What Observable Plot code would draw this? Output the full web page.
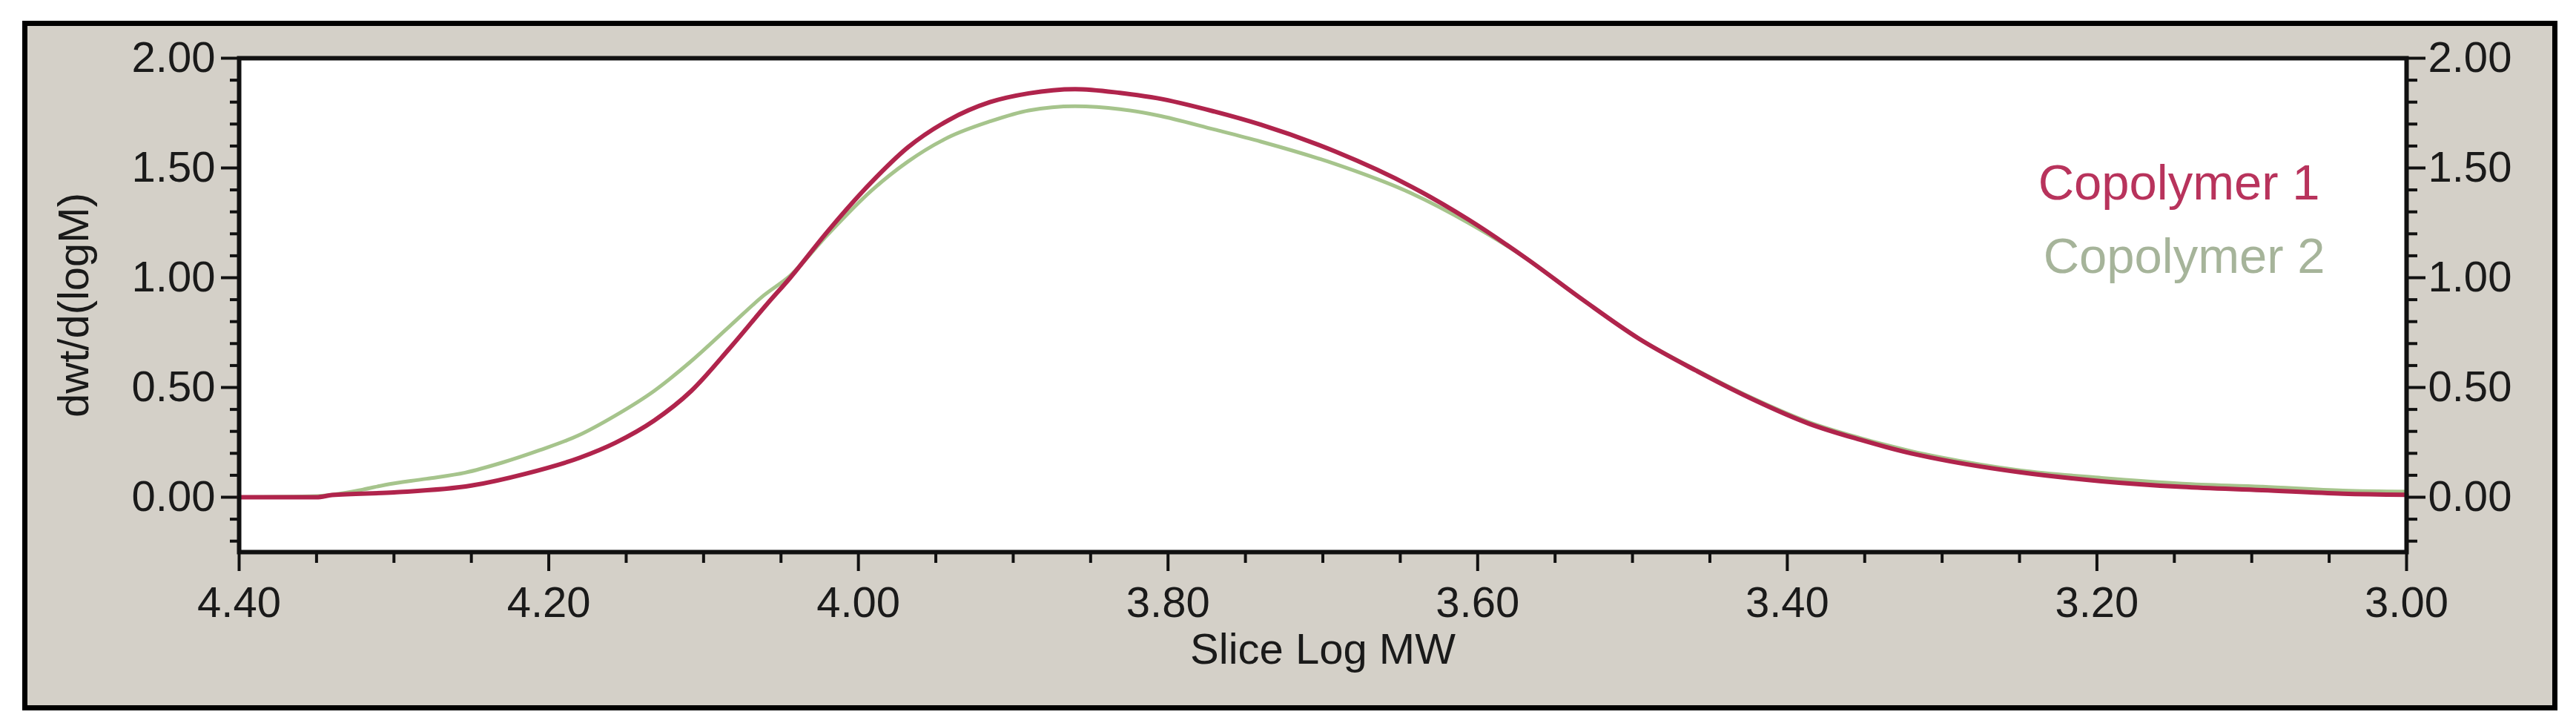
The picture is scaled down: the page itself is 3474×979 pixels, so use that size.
<!DOCTYPE html>
<html><head><meta charset="utf-8">
<script src="https://cdn.jsdelivr.net/npm/d3@7"></script>
<script src="https://cdn.jsdelivr.net/npm/@observablehq/plot@0.6"></script>
<style>
html,body{margin:0;padding:0;background:#fff;}
#wrap{position:relative;width:3474px;height:979px;overflow:hidden;}
#panel{position:absolute;left:30px;top:28px;width:3405px;height:916px;background:#d4d0c8;border:7px solid #000;}
#chart{position:absolute;left:0;top:0;width:3474px;height:979px;}
</style></head><body>
<div id="wrap"><div id="panel"></div><div id="chart"></div></div>
<script>
// ---- data ----
const logMW1 = [4.40,4.35,4.34,4.30,4.25,4.215,4.18,4.157,4.132,4.108,4.083,4.059,4.044,4.020,3.992,3.968,3.942,3.915,3.890,3.860,3.831,3.807,3.770,3.740,3.692,3.642,3.606,3.569,3.532,3.496,3.459,3.422,3.386,3.353,3.320,3.301,3.249,3.197,3.145,3.093,3.041,3.000];
const copolymer1 = [0.000,0.000,0.010,0.022,0.053,0.107,0.180,0.248,0.349,0.484,0.680,0.880,1.000,1.210,1.432,1.594,1.717,1.800,1.840,1.859,1.842,1.818,1.757,1.697,1.575,1.412,1.265,1.090,0.899,0.723,0.577,0.445,0.335,0.262,0.200,0.172,0.113,0.073,0.047,0.032,0.016,0.011];
const logMW2 = [4.40,4.35,4.32,4.306,4.279,4.254,4.230,4.206,4.181,4.157,4.132,4.108,4.083,4.061,4.044,4.020,3.992,3.968,3.942,3.915,3.890,3.860,3.831,3.807,3.770,3.740,3.692,3.642,3.606,3.569,3.532,3.496,3.459,3.422,3.386,3.353,3.320,3.301,3.249,3.197,3.145,3.093,3.041,3.000];
const copolymer2 = [0.000,0.005,0.035,0.056,0.084,0.112,0.158,0.214,0.281,0.372,0.484,0.620,0.780,0.920,1.010,1.195,1.394,1.529,1.639,1.712,1.762,1.781,1.768,1.740,1.675,1.620,1.518,1.382,1.250,1.090,0.899,0.723,0.580,0.450,0.342,0.270,0.210,0.182,0.122,0.088,0.062,0.048,0.030,0.025];
const seriesNames = ["Copolymer 1","Copolymer 2"];
const seriesColors = ["#b0244c","#a6c48c"];
const legendColors = ["#b8335c","#a6b49a"];
const xTicks = [4.40,4.20,4.00,3.80,3.60,3.40,3.20,3.00];
const xMinorTicks = [4.35,4.30,4.25,4.15,4.10,4.05,3.95,3.90,3.85,3.75,3.70,3.65,3.55,3.50,3.45,3.35,3.30,3.25,3.15,3.10,3.05];
const yTicks = [0.00,0.50,1.00,1.50,2.00];
const yMinorTicks = [-0.20,-0.10,0.10,0.20,0.30,0.40,0.60,0.70,0.80,0.90,1.10,1.20,1.30,1.40,1.60,1.70,1.80,1.90];
const xLabel = "Slice Log MW";
const yLabel = "dwt/d(logM)";

const d1 = logMW1.map((x,i)=>({x, y: copolymer1[i], s: seriesNames[0]}));
const d2 = logMW2.map((x,i)=>({x, y: copolymer2[i], s: seriesNames[1]}));

const W = 3474, H = 979;
const fmt = d3.format(".2f");
const axisCommon = {stroke: "#111", fill: "#1a1a1a", strokeWidth: 4, label: null};

const chart = Plot.plot({
  width: W, height: H,
  marginLeft: 322, marginRight: W - 3245, marginTop: 78, marginBottom: H - 744,
  style: {background: "transparent", fontFamily: "'Liberation Sans', Arial, sans-serif", fontSize: "58px", overflow: "visible"},
  x: {domain: [4.40, 3.00]},
  y: {domain: [-0.25, 2.00]},
  marks: [
    Plot.frame({fill: "white"}),
    Plot.axisX({...axisCommon, ticks: xMinorTicks, tickSize: 15, tickFormat: () => ""}),
    Plot.axisX({...axisCommon, ticks: xTicks, tickSize: 26, tickPadding: 20, tickFormat: fmt}),
    Plot.axisY({...axisCommon, anchor: "left", ticks: yMinorTicks, tickSize: 12, tickFormat: () => ""}),
    Plot.axisY({...axisCommon, anchor: "left", ticks: yTicks, tickSize: 24, tickPadding: 8, tickFormat: fmt}),
    Plot.axisY({...axisCommon, anchor: "right", ticks: yMinorTicks, tickSize: 14, tickFormat: () => ""}),
    Plot.axisY({...axisCommon, anchor: "right", ticks: yTicks, tickSize: 25, tickPadding: 4, tickFormat: fmt}),
    Plot.line(d2, {x: "x", y: "y", stroke: seriesColors[1], strokeWidth: 5, curve: "monotone-x"}),
    Plot.line(d1, {x: "x", y: "y", stroke: seriesColors[0], strokeWidth: 6, curve: "monotone-x"}),
    Plot.frame({stroke: "#111", strokeWidth: 6}),
    Plot.text([seriesNames[0]], {frameAnchor: "top-right", dx: -117, dy: 169, textAnchor: "end", lineAnchor: "middle", fill: legendColors[0], fontSize: 67}),
    Plot.text([seriesNames[1]], {frameAnchor: "top-right", dx: -110, dy: 268, textAnchor: "end", lineAnchor: "middle", fill: legendColors[1], fontSize: 67}),
    Plot.text([xLabel], {frameAnchor: "bottom", dy: 150, lineAnchor: "bottom", fill: "#1a1a1a", fontSize: 58}),
    Plot.text([yLabel], {frameAnchor: "left", rotate: -90, dx: -222, textAnchor: "middle", lineAnchor: "middle", fill: "#1a1a1a", fontSize: 58})
  ]
});
document.getElementById("chart").appendChild(chart);
</script>
</body></html>
